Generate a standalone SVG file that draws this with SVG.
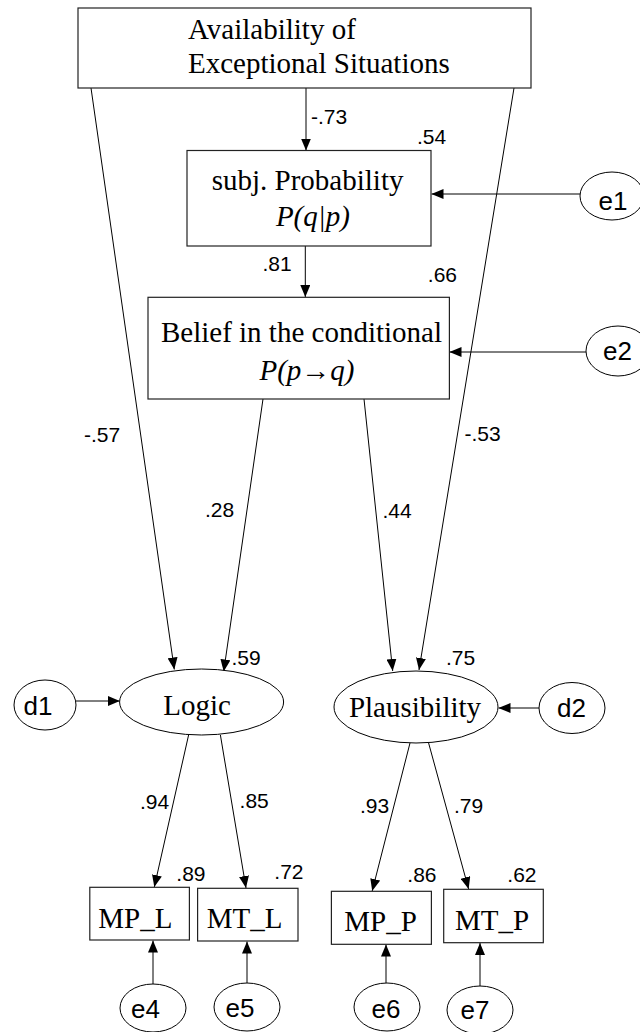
<svg xmlns="http://www.w3.org/2000/svg" width="640" height="1032" viewBox="0 0 640 1032">
<defs>
<marker id="ah" markerWidth="12" markerHeight="10" refX="12" refY="5" orient="auto" markerUnits="userSpaceOnUse">
<path d="M0,0 L12,5 L0,10 z" fill="#000"/>
</marker>
<style>
.box{fill:#fff;stroke:#222;stroke-width:1.2}
.ell{fill:#fff;stroke:#000;stroke-width:1}
.tr{font-family:"Liberation Serif","Times New Roman",serif;font-size:29px;fill:#000}
.ti{font-style:italic}
.ar{font-family:"Liberation Sans",Arial,sans-serif;font-size:21px;fill:#000}
.er{font-family:"Liberation Sans",Arial,sans-serif;font-size:26px;fill:#000}
.c{text-anchor:middle}
#connectors line{stroke:#000;stroke-width:1;fill:none;marker-end:url(#ah)}
</style>
</defs>
<rect width="640" height="1032" fill="#fff"/>

<g id="connectors">
<line x1="306" y1="88" x2="306" y2="150.5"/>
<line x1="305.3" y1="246" x2="305.3" y2="297"/>
<line x1="580" y1="194" x2="431.5" y2="194"/>
<line x1="586" y1="352" x2="449.5" y2="352"/>
<line x1="91" y1="88" x2="174.3" y2="669.5"/>
<line x1="514" y1="88" x2="419" y2="670"/>
<line x1="263" y1="399" x2="223.7" y2="671.5"/>
<line x1="364" y1="399" x2="392.7" y2="671"/>
<line x1="76" y1="701" x2="119.8" y2="701"/>
<line x1="539.5" y1="708" x2="498.5" y2="708"/>
<line x1="188.6" y1="735" x2="154.3" y2="887"/>
<line x1="220.4" y1="735" x2="246" y2="888"/>
<line x1="410" y1="743" x2="372.2" y2="891"/>
<line x1="428.6" y1="743" x2="468.6" y2="889"/>
<line x1="153" y1="984" x2="153" y2="940.5"/>
<line x1="247" y1="983" x2="247" y2="941.5"/>
<line x1="386" y1="983" x2="386" y2="944.5"/>
<line x1="480" y1="986" x2="480" y2="943"/>
</g>

<g id="availability">
<rect class="box" x="78" y="8" width="453" height="80"/>
<text class="tr" x="188" y="39">Availability of</text>
<text class="tr" x="188" y="73">Exceptional Situations</text>
</g>

<g id="subjprob">
<rect class="box" x="187" y="150.5" width="244" height="95.5"/>
<text class="tr c" x="307.6" y="190">subj. Probability</text>
<text class="tr c ti" x="312.9" y="226">P(q|p)</text>
</g>

<g id="belief">
<rect class="box" x="148" y="297.3" width="301.4" height="101.7"/>
<text class="tr c" x="301.5" y="341.7">Belief in the conditional</text>
<text class="tr c" x="307" y="380"><tspan class="ti">P(p</tspan>→<tspan class="ti">q)</tspan></text>
</g>

<g id="e1"><ellipse class="ell" cx="612" cy="196" rx="32" ry="24"/><text class="er c" x="613" y="210">e1</text></g>
<g id="e2"><ellipse class="ell" cx="618" cy="351" rx="32" ry="25"/><text class="er c" x="617.5" y="360">e2</text></g>

<g id="logic"><ellipse class="ell" cx="201.6" cy="702" rx="82" ry="33"/><text class="tr c" x="197" y="715">Logic</text></g>
<g id="plausibility"><ellipse class="ell" cx="416" cy="707" rx="82" ry="36"/><text class="tr c" x="415" y="716.7">Plausibility</text></g>
<g id="d1"><ellipse class="ell" cx="45" cy="705" rx="31" ry="25"/><text class="er c" x="38" y="715">d1</text></g>
<g id="d2"><ellipse class="ell" cx="572" cy="708" rx="33" ry="25.5"/><text class="er c" x="571.5" y="717">d2</text></g>

<g id="mpl"><rect class="box" x="89.8" y="887.3" width="99.6" height="52.7"/><text class="tr c" x="135.4" y="928.3">MP_L</text></g>
<g id="mtl"><rect class="box" x="197.6" y="888.3" width="100.4" height="52.7"/><text class="tr c" x="244.7" y="928">MT_L</text></g>
<g id="mpp"><rect class="box" x="331.4" y="891.3" width="100" height="53"/><text class="tr c" x="380.5" y="930.7">MP_P</text></g>
<g id="mtp"><rect class="box" x="443.7" y="889.3" width="99.6" height="53.4"/><text class="tr c" x="492" y="930">MT_P</text></g>

<g id="e4"><ellipse class="ell" cx="153" cy="1008" rx="33" ry="24"/><text class="er c" x="145.5" y="1017.5">e4</text></g>
<g id="e5"><ellipse class="ell" cx="247" cy="1007" rx="33" ry="24"/><text class="er c" x="240" y="1017">e5</text></g>
<g id="e6"><ellipse class="ell" cx="387" cy="1007" rx="33" ry="24"/><text class="er c" x="386" y="1017.5">e6</text></g>
<g id="e7"><ellipse class="ell" cx="480" cy="1010" rx="33" ry="24"/><text class="er c" x="475" y="1019">e7</text></g>

<g id="labels">
<text class="ar" x="311" y="124">-.73</text>
<text class="ar" x="417" y="144">.54</text>
<text class="ar" x="262.4" y="270.7">.81</text>
<text class="ar" x="427.8" y="282.3">.66</text>
<text class="ar" x="84" y="441.7">-.57</text>
<text class="ar" x="464.5" y="441">-.53</text>
<text class="ar" x="205" y="516.7">.28</text>
<text class="ar" x="382.4" y="518.3">.44</text>
<text class="ar" x="231.4" y="665">.59</text>
<text class="ar" x="446" y="665">.75</text>
<text class="ar" x="140" y="809.3">.94</text>
<text class="ar" x="239.6" y="808.3">.85</text>
<text class="ar" x="360" y="813">.93</text>
<text class="ar" x="453.9" y="813">.79</text>
<text class="ar" x="176.3" y="881">.89</text>
<text class="ar" x="274.3" y="879">.72</text>
<text class="ar" x="407.3" y="882.3">.86</text>
<text class="ar" x="507.3" y="881.7">.62</text>
</g>
</svg>
